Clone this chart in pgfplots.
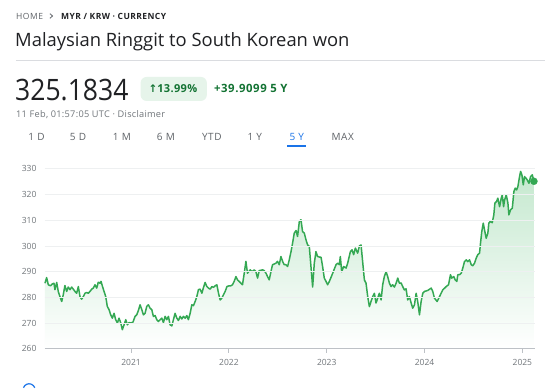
\documentclass[border=0pt]{standalone}
\usepackage{fontspec}
\setmainfont{Open Sans}
\newfontfamily\symfont{DejaVu Sans}
\usepackage{pgfplots}
\usepackage{pgfplotstable}
\pgfplotsset{compat=1.18}
\definecolor{gline}{HTML}{34A853}
\definecolor{gtext}{HTML}{137333}
\definecolor{gpill}{HTML}{E6F4EA}
\definecolor{gfilltop}{HTML}{C4E8CE}
\definecolor{txtdark}{HTML}{202124}
\definecolor{txtgray}{HTML}{5F6368}
\definecolor{txtlight}{HTML}{70757A}
\definecolor{gridc}{HTML}{EEF0F1}
\definecolor{axisc}{HTML}{BDC1C6}
\definecolor{rulec}{HTML}{DADCE0}
\definecolor{gblue}{HTML}{1A73E8}

\pgfplotstableread{
year value
2020.120 285.5
2020.137 287.7
2020.154 284.9
2020.178 284.5
2020.194 285.2
2020.212 285.5
2020.222 283.0
2020.240 285.8
2020.256 282.3
2020.273 280.3
2020.291 278.4
2020.307 281.0
2020.324 284.6
2020.342 282.3
2020.358 284.0
2020.376 283.0
2020.393 284.0
2020.409 283.2
2020.427 282.3
2020.444 281.6
2020.461 284.2
2020.478 280.3
2020.495 279.3
2020.512 280.3
2020.529 281.6
2020.547 281.9
2020.563 281.6
2020.580 282.3
2020.598 283.2
2020.614 283.6
2020.631 284.9
2020.649 283.6
2020.665 285.9
2020.683 285.5
2020.693 286.2
2020.706 284.5
2020.724 282.3
2020.741 280.3
2020.757 276.5
2020.775 275.2
2020.792 273.2
2020.809 271.9
2020.826 273.8
2020.843 271.3
2020.860 270.0
2020.877 271.9
2020.895 270.0
2020.911 267.4
2020.928 269.3
2020.946 271.3
2020.962 269.3
2020.980 270.2
2021.000 270.0
2021.020 270.4
2021.041 272.6
2021.058 273.2
2021.075 274.9
2021.092 277.1
2021.110 275.2
2021.126 273.2
2021.143 273.8
2021.161 276.5
2021.177 277.1
2021.194 275.8
2021.212 275.2
2021.228 272.6
2021.246 272.9
2021.263 271.3
2021.279 270.6
2021.297 271.3
2021.314 271.9
2021.331 270.2
2021.348 272.6
2021.365 271.3
2021.382 272.6
2021.399 269.3
2021.417 268.9
2021.433 271.3
2021.450 273.8
2021.468 271.9
2021.484 271.0
2021.502 272.6
2021.519 271.6
2021.535 272.6
2021.553 271.9
2021.570 272.9
2021.586 271.3
2021.604 273.8
2021.621 277.1
2021.638 276.8
2021.655 278.4
2021.672 280.3
2021.689 283.0
2021.706 283.2
2021.724 281.6
2021.740 283.8
2021.757 285.8
2021.775 284.2
2021.791 283.6
2021.809 283.2
2021.826 284.2
2021.842 283.9
2021.860 284.5
2021.877 284.9
2021.894 281.6
2021.911 279.0
2021.928 279.7
2021.945 281.0
2021.962 282.3
2021.980 284.2
2022.003 284.5
2022.020 284.5
2022.037 284.9
2022.054 286.2
2022.072 288.1
2022.088 286.8
2022.105 286.2
2022.123 285.5
2022.139 284.9
2022.157 289.4
2022.174 294.0
2022.190 289.4
2022.218 290.7
2022.238 290.0
2022.259 290.7
2022.276 290.0
2022.293 287.5
2022.310 290.4
2022.344 290.7
2022.361 290.4
2022.379 289.4
2022.395 288.1
2022.412 286.8
2022.430 290.0
2022.446 292.7
2022.464 293.0
2022.481 293.3
2022.497 294.0
2022.515 292.7
2022.532 295.9
2022.549 294.0
2022.566 292.7
2022.583 292.7
2022.600 292.0
2022.617 294.6
2022.635 297.8
2022.651 301.1
2022.668 305.0
2022.686 306.0
2022.702 303.7
2022.720 309.5
2022.737 310.2
2022.753 305.6
2022.771 305.0
2022.788 302.4
2022.805 300.4
2022.822 299.8
2022.839 292.0
2022.856 284.0
2022.873 293.3
2022.890 297.8
2022.907 295.9
2022.924 295.7
2022.942 295.6
2022.958 292.0
2022.975 287.5
2022.993 286.2
2023.009 284.9
2023.027 286.2
2023.061 289.4
2023.095 292.7
2023.112 293.3
2023.129 292.7
2023.139 295.9
2023.153 290.0
2023.173 292.0
2023.198 291.4
2023.214 293.3
2023.242 297.8
2023.259 298.5
2023.275 296.6
2023.293 299.2
2023.316 297.2
2023.334 300.0
2023.351 300.4
2023.367 294.0
2023.385 286.8
2023.402 285.5
2023.419 280.3
2023.436 276.4
2023.453 278.4
2023.470 280.3
2023.487 281.6
2023.504 277.8
2023.521 279.7
2023.538 281.6
2023.556 279.0
2023.572 284.9
2023.589 288.1
2023.607 290.0
2023.623 288.1
2023.641 285.5
2023.658 284.2
2023.674 284.9
2023.692 284.0
2023.709 285.5
2023.726 287.5
2023.743 285.5
2023.760 285.6
2023.777 284.2
2023.794 282.9
2023.811 283.3
2023.828 279.0
2023.845 280.3
2023.863 277.8
2023.879 275.8
2023.897 277.1
2023.914 281.6
2023.930 278.4
2023.948 273.2
2023.965 278.4
2023.982 281.6
2023.999 282.3
2024.033 282.7
2024.068 283.6
2024.084 282.3
2024.101 279.7
2024.129 278.4
2024.153 280.3
2024.186 282.9
2024.221 284.2
2024.245 284.9
2024.265 288.8
2024.278 287.5
2024.299 288.1
2024.313 286.8
2024.330 286.2
2024.340 288.8
2024.357 288.8
2024.375 289.4
2024.391 291.4
2024.408 293.9
2024.426 294.6
2024.442 293.9
2024.460 294.6
2024.477 292.7
2024.493 292.3
2024.511 293.3
2024.528 295.3
2024.544 296.6
2024.562 297.2
2024.572 301.1
2024.585 305.6
2024.600 308.9
2024.613 306.3
2024.630 303.0
2024.647 305.0
2024.657 308.9
2024.671 309.5
2024.692 309.1
2024.708 312.1
2024.719 316.7
2024.736 317.3
2024.749 318.6
2024.767 315.3
2024.784 318.6
2024.794 319.9
2024.808 315.3
2024.818 317.9
2024.835 319.9
2024.852 316.7
2024.862 312.1
2024.879 314.1
2024.897 314.7
2024.913 321.2
2024.927 322.5
2024.941 321.8
2024.954 323.1
2024.971 327.0
2024.982 329.0
2024.995 327.7
2025.009 323.8
2025.022 327.0
2025.036 326.4
2025.050 325.7
2025.067 324.4
2025.084 327.0
2025.101 327.7
2025.110 326.4
2025.118 325.18
}\rates

% baseline corners that close the shaded area (right, then left)
\pgfplotstableread{
year value
2025.118 260
2020.120 260
}\baseln

\pgfplotstableread{
year value
2025.118 325.18
}\lastpoint

\pgfplotstablevertcat{\ratesfill}{\rates}
\pgfplotstablevertcat{\ratesfill}{\baseln}

\begin{document}
\begin{tikzpicture}
\begin{scope}[x=1pt,y=1pt]
\fill[white] (0,0) rectangle (545,388);
% breadcrumb
\node[anchor=west, inner sep=0pt, text=txtgray, font=\fontsize{8.5}{10}\selectfont\addfontfeatures{LetterSpace=6}] at (16,372) {HOME};
\draw[txtgray, line width=0.8pt] (50,374.3) -- (52.6,372) -- (50,369.7);
\node[anchor=west, inner sep=0pt, text=txtdark, font=\fontsize{8.5}{10}\selectfont\bfseries\addfontfeatures{LetterSpace=5}] at (61,372) {MYR / KRW · CURRENCY};
% title
\node[anchor=west, inner sep=0pt, text=txtdark, font=\fontsize{18.4}{22}\selectfont] at (15,346.3) {Malaysian Ringgit to South Korean won};
\draw[rulec, line width=0.8pt] (16,327.3) -- (545,327.3);
% price
\node[anchor=west, inner sep=0pt, text=txtdark, xscale=0.9, font=\fontsize{29.5}{32}\selectfont] at (15,297.5) {325.1834};
\fill[gpill, rounded corners=6pt] (140.7,287) rectangle (207,311);
\node[anchor=west, inner sep=0pt, text=gtext, font=\fontsize{11}{12}\selectfont\bfseries] at (148.5,299.3) {{\symfont\fontsize{10.5}{10}\selectfont ↑}\addfontfeatures{LetterSpace=3}13.99\%};
\node[anchor=west, inner sep=0pt, text=gtext, font=\fontsize{11.4}{13}\selectfont\bfseries\addfontfeatures{LetterSpace=5}] at (214,299.3) {+39.9099 5 Y};
\node[anchor=west, inner sep=0pt, text=txtlight, font=\fontsize{9.2}{10}\selectfont\addfontfeatures{LetterSpace=3}] at (16,273) {11 Feb, 01:57:05 UTC · Disclaimer};
% tabs
\foreach \lab/\xx in {1 D/36.5, 5 D/78, 1 M/122, 6 M/166, YTD/212, 1 Y/255, MAX/343}{
  \node[inner sep=0pt, text=txtgray, font=\fontsize{10}{11}\selectfont\addfontfeatures{LetterSpace=6}] at (\xx,251.3) {\lab};
}
\node[inner sep=0pt, text=gblue, font=\fontsize{10}{11}\selectfont\addfontfeatures{LetterSpace=6}] at (297,251.3) {5 Y};
\fill[gblue] (287.5,241.3) rectangle (306.5,243.3);
% bottom icon
\draw[gblue, line width=1.2pt] (23.5,0) arc[start angle=160, end angle=20, radius=6];
\end{scope}
\begin{axis}[
  at={(45pt,39pt)}, anchor=south west,
  scale only axis, width=490pt, height=180pt,
  xmin=2020.12, xmax=2025.125, ymin=260, ymax=330,
  axis x line=bottom, axis y line=left,
  axis line style={-},
  x axis line style={axisc, line width=0.8pt},
  y axis line style={draw=none},
  ytick={260,270,...,330},
  xtick={2021,2022,2023,2024,2025},
  ymajorgrids, grid style={gridc, line width=0.8pt},
  ytick style={draw=none},
  xtick style={axisc, line width=0.8pt},
  major tick length=4pt, tick align=outside,
  /pgf/number format/assume math mode=true,
  xticklabel style={/pgf/number format/1000 sep={}, text=txtlight, font=\fontsize{8.5}{10}\selectfont, yshift=-3pt},
  yticklabel style={text=txtlight, font=\fontsize{8.5}{10}\selectfont, xshift=-1pt},
  axis on top, clip=false,
]
\addplot[draw=none, top color=gfilltop, bottom color=white] table[x=year,y=value]{\ratesfill} -- cycle;
\addplot[gline, line width=1.5pt, line join=round] table[x=year,y=value]{\rates};
\addplot[only marks, mark=*, mark size=3.5pt, gline] table[x=year,y=value]{\lastpoint};
\end{axis}
\end{tikzpicture}
\end{document}
